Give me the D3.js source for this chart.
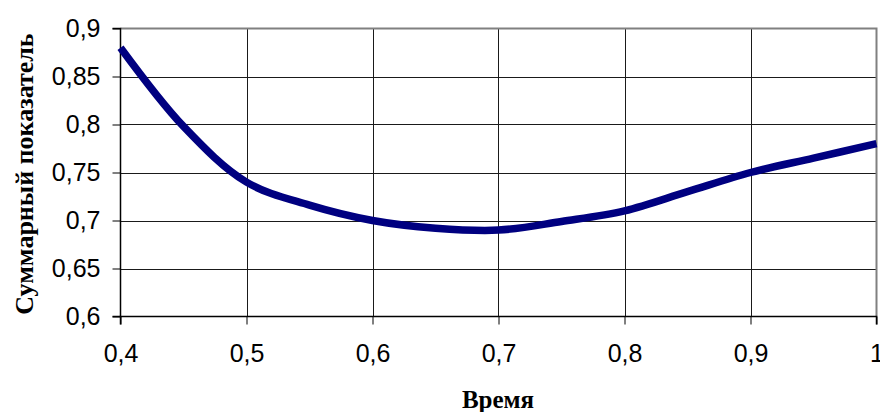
<!DOCTYPE html>
<html><head><meta charset="utf-8">
<script src="https://cdn.jsdelivr.net/npm/d3@7"></script>
<style>body{margin:0;background:#fff}svg{display:block}</style>
</head><body>
<svg id="c" width="880" height="412"></svg>
<script>
const times = [0.4,0.45,0.5,0.55,0.6,0.65,0.7,0.75,0.8,0.85,0.9,0.95,1.0];
const values = [0.88,0.798,0.74,0.716,0.70,0.692,0.69,0.699,0.71,0.73,0.75,0.765,0.78];
const xTicks = [0.4,0.5,0.6,0.7,0.8,0.9,1.0];
const yTicks = [0.6,0.65,0.7,0.75,0.8,0.85,0.9];
const xTitle = "Время";
const yTitle = "Суммарный показатель";

const svg = d3.select("#c");
const L=120.5, R=876.5, T=28.5, B=316.5;
const x = d3.scaleLinear().domain([0.4,1.0]).range([L,R]);
const y = d3.scaleLinear().domain([0.6,0.9]).range([B,T]);
const fmt = d => String(+d.toFixed(2)).replace(".",",");

// grid
svg.append("g").selectAll("line").data(yTicks.slice(1,-1)).join("line")
  .attr("x1",L).attr("x2",R).attr("y1",d=>Math.round(y(d))+0.5).attr("y2",d=>Math.round(y(d))+0.5)
  .attr("stroke","#1a1a1a").attr("stroke-width",1);
svg.append("g").selectAll("line").data(xTicks.slice(1,-1)).join("line")
  .attr("y1",T).attr("y2",B).attr("x1",d=>Math.round(x(d))+0.5).attr("x2",d=>Math.round(x(d))+0.5)
  .attr("stroke","#1a1a1a").attr("stroke-width",1);
// top/right border
svg.append("path").attr("d",`M${L},${T}H${R}V${B}`).attr("fill","none").attr("stroke","#808080").attr("stroke-width",2);

// axes
const yAxis = d3.axisLeft(y).tickValues(yTicks).tickSize(8).tickPadding(12).tickFormat(fmt);
const gy = svg.append("g").attr("transform",`translate(${L},0)`).call(yAxis);
const xAxis = d3.axisBottom(x).tickValues(xTicks).tickSize(8).tickPadding(20).tickFormat(fmt);
const gx = svg.append("g").attr("transform",`translate(0,${B})`).call(xAxis);
[gx,gy].forEach(g=>{
  g.select(".domain").attr("stroke","#000").attr("stroke-width",1.5);
  g.selectAll(".tick line").attr("stroke","#000");
  g.selectAll("text").attr("font-family","Liberation Sans, Arial, sans-serif").attr("font-size",25).attr("fill","#000");
});
gy.select(".domain").attr("d",`M-8,${T}H0V${B}H-8`);
gx.select(".domain").attr("d",`M${L},8V0H${R}V8`);

// line
svg.append("path").datum(times.map((t,i)=>[t,values[i]]))
  .attr("d",d3.line().x(d=>x(d[0])).y(d=>y(d[1])).curve(d3.curveCatmullRom))
  .attr("fill","none").attr("stroke","#000080").attr("stroke-width",7.5).attr("stroke-linejoin","round");

// titles
svg.append("text").attr("x",498).attr("y",408).attr("text-anchor","middle")
  .attr("font-family","Liberation Serif, Times New Roman, serif").attr("font-weight","bold").attr("font-size",25).text(xTitle);
svg.append("text").attr("transform","translate(33,174) rotate(-90)").attr("text-anchor","middle")
  .attr("font-family","Liberation Serif, Times New Roman, serif").attr("font-weight","bold").attr("font-size",26).text(yTitle);
</script>
</body></html>
